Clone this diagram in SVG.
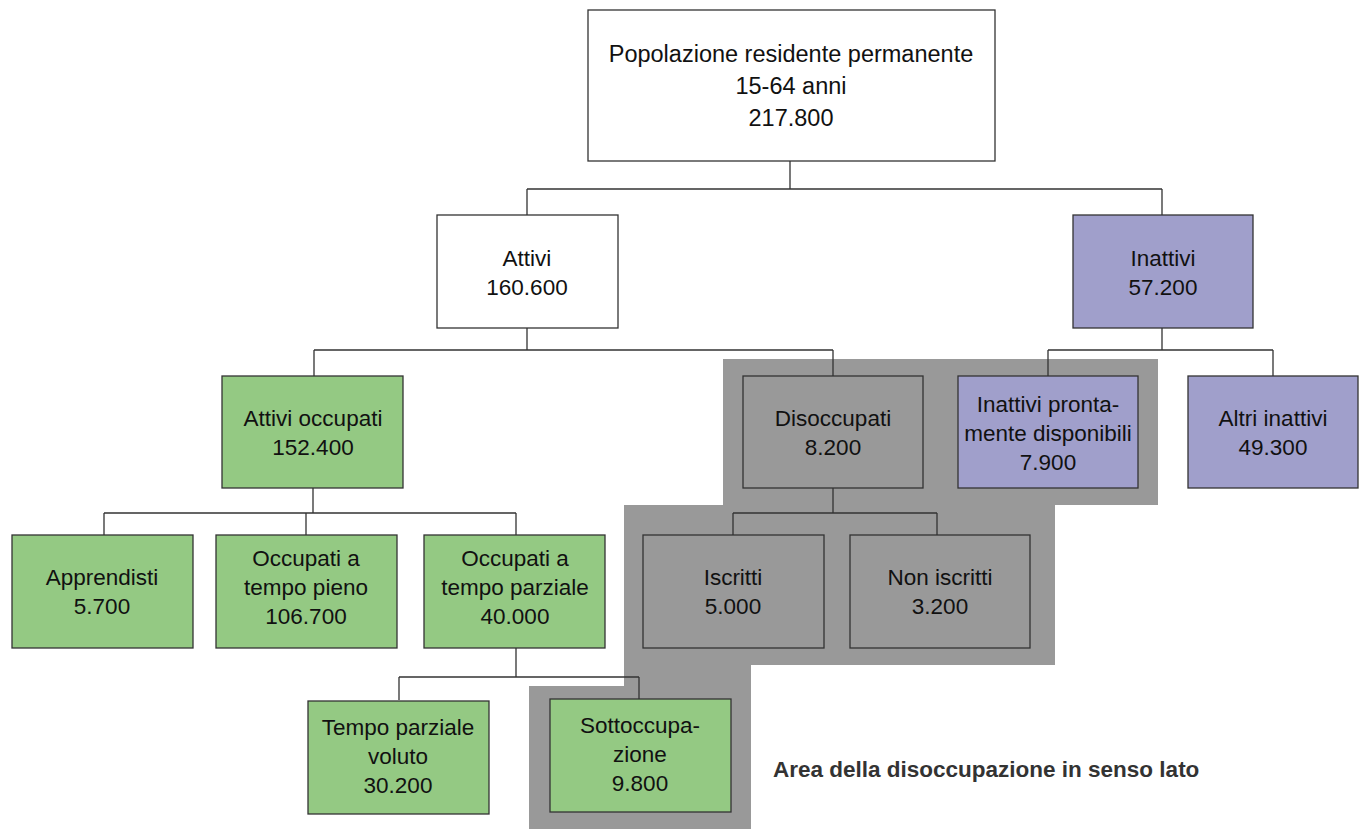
<svg xmlns="http://www.w3.org/2000/svg" width="1361" height="829" viewBox="0 0 1361 829">
<style>
.box{stroke:#333;stroke-width:1.3}
.w{fill:#fff}.g{fill:#94c983}.l{fill:#a09fcb}.d{fill:#999999}
text{font-family:"Liberation Sans",Arial,sans-serif;font-size:22.5px;fill:#111;text-anchor:middle}
.big{font-size:23.5px}
.cap{font-weight:bold;font-size:22.5px;fill:#333;text-anchor:start}
.c{fill:none;stroke:#333;stroke-width:1.3}
</style>
<rect width="1361" height="829" fill="#fff"/>
<path id="area" d="M723,359 H1158 V505 H1055 V665 H751 V829 H529 V686 H624 V505 H723 Z" fill="#999999"/>
<g id="connectors" class="c">
<path d="M790,161 V189 M527,189 H1162 M527,189 V215 M1162,189 V215"/>
<path d="M527,328 V350 M314,350 H833 M314,350 V376 M833,350 V376"/>
<path d="M1162,328 V350 M1048,350 H1273 M1048,350 V376 M1273,350 V376"/>
<path d="M313,488 V513 M104,513 H516 M104,513 V535 M306,513 V535 M516,513 V535"/>
<path d="M833,488 V513 M733,513 H937 M733,513 V535 M937,513 V535"/>
<path d="M516,648 V677 M399,677 H639 M399,677 V700 M639,677 V700"/>
</g>
<g id="n-pop"><rect class="box w" x="588" y="10" width="407" height="151"/><text class="big" x="791" y="62">Popolazione residente permanente</text><text class="big" x="791" y="94">15-64 anni</text><text class="big" x="791" y="126">217.800</text></g>
<g id="n-attivi"><rect class="box w" x="437" y="215" width="181" height="113"/><text x="527" y="266">Attivi</text><text x="527" y="295">160.600</text></g>
<g id="n-inattivi"><rect class="box l" x="1073" y="215" width="180" height="113"/><text x="1163" y="266">Inattivi</text><text x="1163" y="295">57.200</text></g>
<g id="n-occ"><rect class="box g" x="222" y="376" width="181" height="112"/><text x="313" y="426">Attivi occupati</text><text x="313" y="455">152.400</text></g>
<g id="n-disocc"><rect class="box d" x="743" y="376" width="180" height="112"/><text x="833" y="426">Disoccupati</text><text x="833" y="455">8.200</text></g>
<g id="n-pronti"><rect class="box l" x="958" y="376" width="180" height="112"/><text x="1048" y="412">Inattivi pronta-</text><text x="1048" y="441">mente disponibili</text><text x="1048" y="470">7.900</text></g>
<g id="n-altri"><rect class="box l" x="1188" y="376" width="170" height="112"/><text x="1273" y="426">Altri inattivi</text><text x="1273" y="455">49.300</text></g>
<g id="n-appr"><rect class="box g" x="12" y="535" width="181" height="113"/><text x="102" y="585">Apprendisti</text><text x="102" y="614">5.700</text></g>
<g id="n-pieno"><rect class="box g" x="216" y="535" width="181" height="113"/><text x="306" y="566">Occupati a</text><text x="306" y="595">tempo pieno</text><text x="306" y="624">106.700</text></g>
<g id="n-parz"><rect class="box g" x="424" y="535" width="181" height="113"/><text x="515" y="566">Occupati a</text><text x="515" y="595">tempo parziale</text><text x="515" y="624">40.000</text></g>
<g id="n-iscr"><rect class="box d" x="643" y="535" width="181" height="113"/><text x="733" y="585">Iscritti</text><text x="733" y="614">5.000</text></g>
<g id="n-noniscr"><rect class="box d" x="850" y="535" width="180" height="113"/><text x="940" y="585">Non iscritti</text><text x="940" y="614">3.200</text></g>
<g id="n-voluto"><rect class="box g" x="308" y="701" width="181" height="113"/><text x="398" y="735">Tempo parziale</text><text x="398" y="764">voluto</text><text x="398" y="793">30.200</text></g>
<g id="n-sotto"><rect class="box g" x="550" y="699" width="181" height="113"/><text x="640" y="733">Sottoccupa-</text><text x="640" y="762">zione</text><text x="640" y="791">9.800</text></g>
<text class="cap" x="773" y="777">Area della disoccupazione in senso lato</text>
</svg>
